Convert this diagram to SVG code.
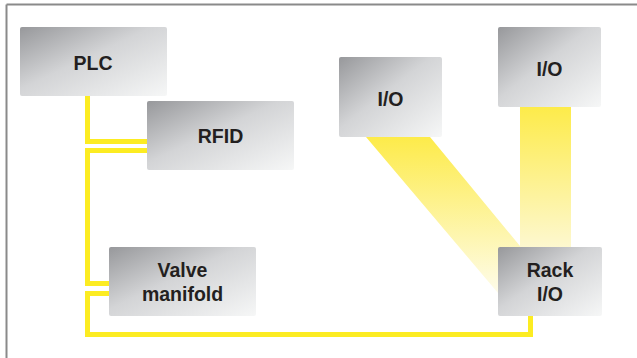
<svg xmlns="http://www.w3.org/2000/svg" width="637" height="358" viewBox="0 0 637 358">
  <defs>
    <linearGradient id="boxFill" x1="0" y1="0" x2="1" y2="1">
      <stop offset="0" stop-color="#97989b"/>
      <stop offset="0.45" stop-color="#d3d4d6"/>
      <stop offset="1" stop-color="#f6f7f7"/>
    </linearGradient>
    <linearGradient id="bandV" gradientUnits="userSpaceOnUse" x1="0" y1="107" x2="0" y2="250">
      <stop offset="0" stop-color="#fdeb4a"/>
      <stop offset="1" stop-color="#fdf8d2"/>
    </linearGradient>
    <linearGradient id="bandD" gradientUnits="userSpaceOnUse" x1="0" y1="137" x2="0" y2="295">
      <stop offset="0" stop-color="#fdeb4a"/>
      <stop offset="1" stop-color="#fefcec"/>
    </linearGradient>
  </defs>
  <style>
    .box { fill: url(#boxFill); }
    .lbl { font-family: "Liberation Sans", Arial, Helvetica, sans-serif; font-weight: bold; font-size: 19.5px; fill: #231f20; text-anchor: middle; }
    .wire { fill: none; stroke: #fcec22; stroke-width: 5; stroke-linejoin: miter; }
    .frame { stroke: #8a8a8a; stroke-width: 2; fill: none; }
  </style>

  <!-- frame -->
  <g id="frame">
    <line class="frame" x1="6.5" y1="4.5" x2="637" y2="4.5"/>
    <line class="frame" x1="6.5" y1="4.5" x2="6.5" y2="358"/>
  </g>

  <!-- connectors -->
  <g id="connectors">
    <polygon points="366,137 430,137 520,246 520,300 498,300 498,293" fill="url(#bandD)"/>
    <rect x="520" y="107" width="51" height="140" fill="url(#bandV)"/>
    <polyline class="wire" points="87.5,96 87.5,141.5 147,141.5"/>
    <polyline class="wire" points="147,150.5 87.5,150.5 87.5,283.5 109,283.5"/>
    <polyline class="wire" points="109,293.5 87.5,293.5 87.5,334.5 530.5,334.5 530.5,316"/>
  </g>

  <g id="plc">
    <rect class="box" x="20" y="27" width="147" height="69" rx="2"/>
    <text class="lbl" x="93" y="69.5">PLC</text>
  </g>
  <g id="rfid">
    <rect class="box" x="147" y="101" width="147" height="69" rx="2"/>
    <text class="lbl" x="220.5" y="143">RFID</text>
  </g>
  <g id="valve-manifold">
    <rect class="box" x="109" y="247" width="147" height="69" rx="2"/>
    <text class="lbl" x="182.5" y="277">Valve</text>
    <text class="lbl" x="182.5" y="301">manifold</text>
  </g>
  <g id="io-left">
    <rect class="box" x="339" y="57" width="103" height="80" rx="2"/>
    <text class="lbl" x="390.5" y="106">I/O</text>
  </g>
  <g id="io-right">
    <rect class="box" x="498" y="27" width="103" height="80" rx="2"/>
    <text class="lbl" x="549.5" y="76">I/O</text>
  </g>
  <g id="rack-io">
    <rect class="box" x="498" y="247" width="104" height="69" rx="2"/>
    <text class="lbl" x="550" y="277">Rack</text>
    <text class="lbl" x="550" y="301">I/O</text>
  </g>
</svg>
